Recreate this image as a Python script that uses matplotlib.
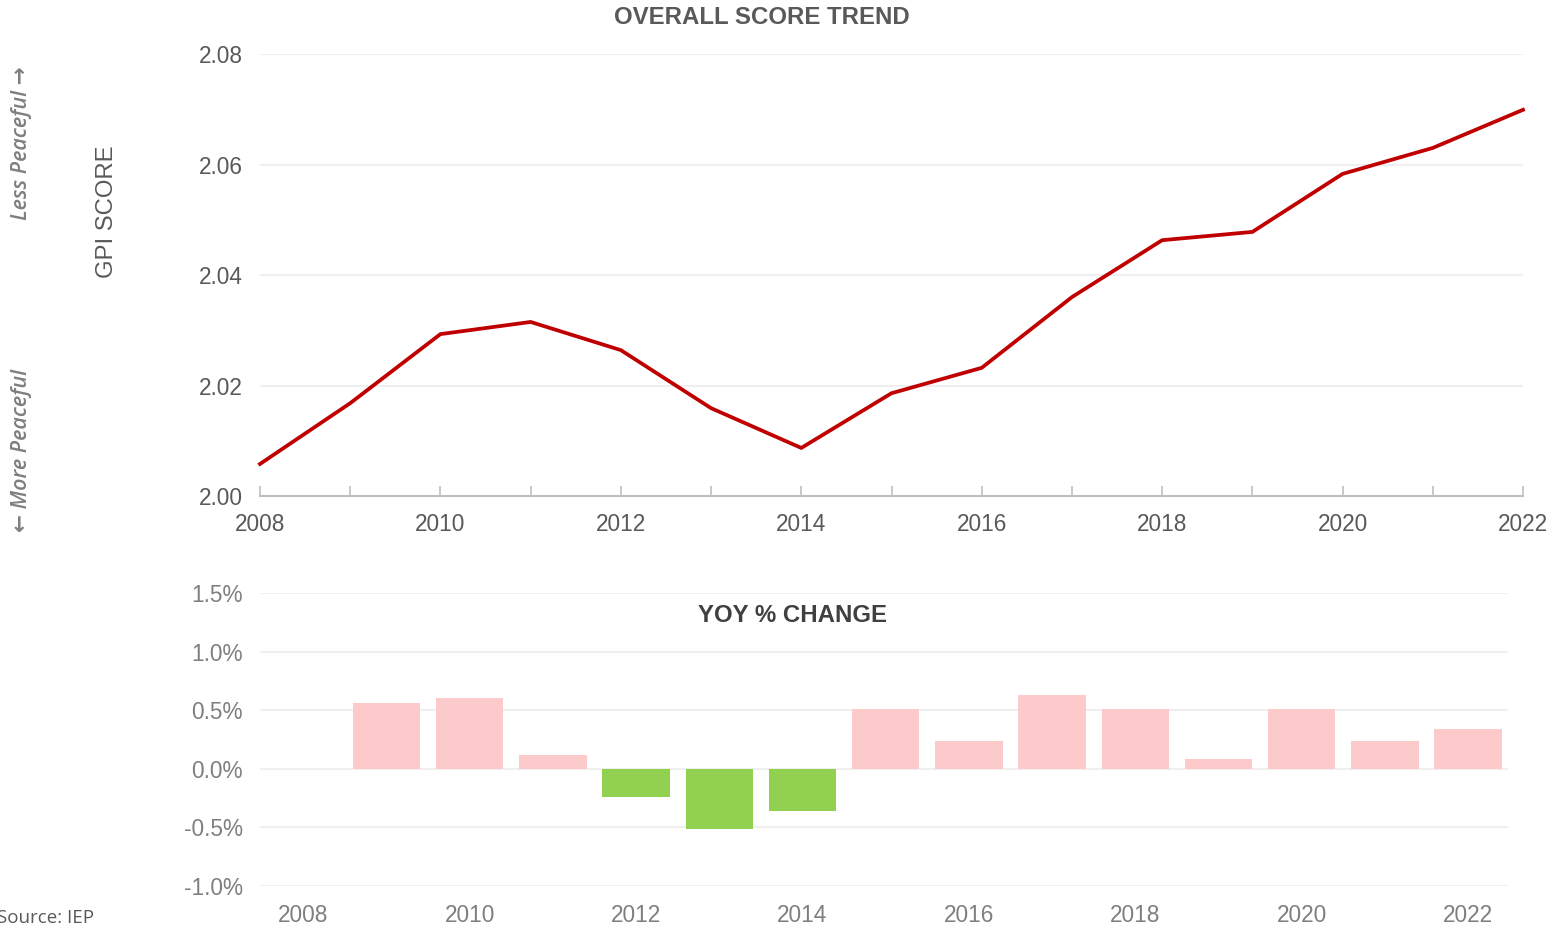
import matplotlib
matplotlib.use("Agg")
import matplotlib.pyplot as plt
import numpy as np
from matplotlib.ticker import FuncFormatter

years = [2008, 2009, 2010, 2011, 2012, 2013, 2014, 2015, 2016, 2017, 2018, 2019, 2020, 2021, 2022]
gpi_score = [2.0058, 2.0168, 2.0293, 2.0315, 2.0264, 2.0159, 2.0087, 2.0186, 2.0232,
             2.0360, 2.0463, 2.0478, 2.0583, 2.0630, 2.0699]
yoy_years = [2009, 2010, 2011, 2012, 2013, 2014, 2015, 2016, 2017, 2018, 2019, 2020, 2021, 2022]
yoy_change = [0.56, 0.60, 0.12, -0.24, -0.51, -0.36, 0.51, 0.24, 0.63, 0.51, 0.085, 0.51, 0.24, 0.34]

plt.rcParams['font.family'] = ['Liberation Sans', 'DejaVu Sans']

W, H = 1558, 930
fig = plt.figure(figsize=(W / 100, H / 100), dpi=100)

def ax_rect(x0, y0, x1, y1):
    return [x0 / W, 1 - y1 / H, (x1 - x0) / W, (y1 - y0) / H]

# ---- Top chart ----
ax1 = fig.add_axes(ax_rect(260, 54, 1523, 496))
ax1.plot(years, gpi_score, color='#C00000', lw=2.7, solid_joinstyle='miter', clip_on=False)
ax1.set_xlim(2008, 2022)
ax1.set_ylim(2.00, 2.08)
ax1.set_yticks([2.00, 2.02, 2.04, 2.06, 2.08])
ax1.yaxis.set_major_formatter(FuncFormatter(lambda v, p: f"{v:.2f}"))
ax1.set_xticks(years)
ax1.set_xticklabels([str(y) if y % 2 == 0 else '' for y in years])
ax1.grid(axis='y', color='#EFEFEF', lw=1.5)
ax1.set_axisbelow(True)
for s in ['top', 'right', 'left']:
    ax1.spines[s].set_visible(False)
ax1.spines['bottom'].set_color('#BFBFBF')
ax1.spines['bottom'].set_linewidth(1.5)
ax1.tick_params(axis='x', direction='in', length=7, width=1.2, color='#BFBFBF',
                labelsize=16.3, labelcolor='#595959', pad=12)
ax1.tick_params(axis='y', length=0, labelsize=16.3, labelcolor='#595959', pad=12.5)

fig.text(762 / W, 1 - 18 / H, 'OVERALL SCORE TREND', ha='center', va='center',
         fontsize=17.3, fontweight='bold', color='#595959')
fig.text(107 / W, 1 - 212 / H, 'GPI SCORE', rotation=90, ha='center', va='center',
         fontsize=17.2, color='#595959')
fig.text(22 / W, 1 - 143 / H, 'Less Peaceful \u2192', rotation=90, ha='center', va='center',
         fontsize=15.5, style='italic', fontweight='semibold', color='#7F7F7F',
         family=['Open Sans', 'DejaVu Sans'])
fig.text(22 / W, 1 - 451 / H, '\u2190 More Peaceful', rotation=90, ha='center', va='center',
         fontsize=15.5, style='italic', fontweight='semibold', color='#7F7F7F',
         family=['Open Sans', 'DejaVu Sans'])

# ---- Bottom chart ----
ax2 = fig.add_axes(ax_rect(260, 593, 1508, 886))
pos = [years.index(y) for y in yoy_years]
colors = ['#FCCACA' if v >= 0 else '#92D050' for v in yoy_change]
ax2.bar(pos, yoy_change, width=0.81, color=colors, zorder=3)
ax2.set_xlim(-0.52, 14.48)
ax2.set_ylim(-1.0, 1.5)
ax2.set_yticks([-1.0, -0.5, 0.0, 0.5, 1.0, 1.5])
ax2.yaxis.set_major_formatter(FuncFormatter(lambda v, p: f"{v:.1f}%"))
xt = [i for i, y in enumerate(years) if y % 2 == 0]
ax2.set_xticks(xt)
ax2.set_xticklabels([str(years[i]) for i in xt])
ax2.grid(axis='y', color='#EFEFEF', lw=1.5, zorder=0)
for s in ['top', 'right', 'left', 'bottom']:
    ax2.spines[s].set_visible(False)
ax2.tick_params(axis='x', length=0, labelsize=16.3, labelcolor='#7F7F7F', pad=13)
ax2.tick_params(axis='y', length=0, labelsize=16.3, labelcolor='#7F7F7F', pad=12.5)

fig.text(792 / W, 1 - 615 / H, 'YOY % CHANGE', ha='center', va='center',
         fontsize=17.3, fontweight='bold', color='#404040')

fig.text(-3 / W, 1 - 918 / H, 'Source: IEP', ha='left', va='center',
         fontsize=13.5, color='#595959', family=['Open Sans', 'DejaVu Sans'])

fig.savefig('out.png', dpi=100)
